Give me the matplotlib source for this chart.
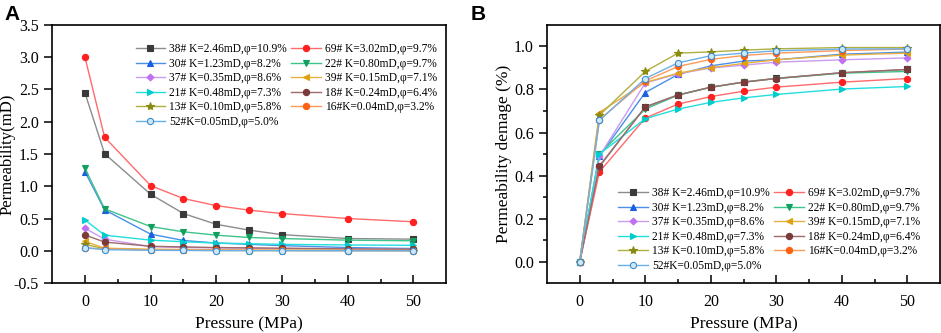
import matplotlib
matplotlib.use("Agg")
import matplotlib.pyplot as plt

pressure = [0, 3, 10, 15, 20, 25, 30, 40, 50]

labels = ['38# K=2.46mD,φ=10.9%', '69# K=3.02mD,φ=9.7%', '30# K=1.23mD,φ=8.2%',
          '22# K=0.80mD,φ=9.7%', '37# K=0.35mD,φ=8.6%', '39# K=0.15mD,φ=7.1%',
          '21# K=0.48mD,φ=7.3%', '18# K=0.24mD,φ=6.4%', '13# K=0.10mD,φ=5.8%',
          '16#K=0.04mD,φ=3.2%', '52#K=0.05mD,φ=5.0%']

# permeability (mD) vs pressure
perm_38 = [2.45, 1.505, 0.876, 0.577, 0.41, 0.32, 0.25, 0.19, 0.18]
perm_69 = [3.005, 1.76, 1.01, 0.81, 0.70, 0.63, 0.577, 0.50, 0.45]
perm_30 = [1.227, 0.634, 0.258, 0.16, 0.12, 0.10, 0.08, 0.05, 0.035]
perm_22 = [1.28, 0.65, 0.376, 0.294, 0.242, 0.206, 0.19, 0.165, 0.155]
perm_37 = [0.35, 0.18, 0.065, 0.05, 0.045, 0.04, 0.035, 0.03, 0.02]
perm_39 = [0.145, 0.04, 0.025, 0.02, 0.015, 0.012, 0.01, 0.008, 0.005]
perm_21 = [0.48, 0.242, 0.165, 0.14, 0.12, 0.11, 0.10, 0.09, 0.085]
perm_18 = [0.245, 0.135, 0.07, 0.06, 0.05, 0.045, 0.04, 0.03, 0.025]
perm_13 = [0.10, 0.03, 0.012, 0.008, 0.005, 0.004, 0.003, 0.002, 0.001]
perm_16 = [0.04, 0.03, 0.015, 0.012, 0.01, 0.008, 0.006, 0.004, 0.003]
perm_52 = [0.05, 0.017, 0.008, 0.005, 0.003, 0.002, 0.002, 0.001, 0.001]

# permeability damage vs pressure
dmg_38 = [0, 0.44, 0.72, 0.775, 0.81, 0.835, 0.852, 0.878, 0.893]
dmg_69 = [0, 0.417, 0.667, 0.732, 0.767, 0.792, 0.811, 0.834, 0.851]
dmg_30 = [0, 0.49, 0.786, 0.87, 0.91, 0.932, 0.938, 0.964, 0.974]
dmg_22 = [0, 0.50, 0.709, 0.774, 0.81, 0.834, 0.851, 0.876, 0.884]
dmg_37 = [0, 0.49, 0.83, 0.873, 0.90, 0.913, 0.927, 0.938, 0.947]
dmg_39 = [0, 0.693, 0.833, 0.876, 0.902, 0.921, 0.938, 0.96, 0.969]
dmg_21 = [0, 0.50, 0.664, 0.709, 0.74, 0.761, 0.777, 0.802, 0.814]
dmg_18 = [0, 0.445, 0.718, 0.774, 0.811, 0.834, 0.851, 0.878, 0.893]
dmg_13 = [0, 0.68, 0.884, 0.969, 0.975, 0.983, 0.989, 0.995, 0.995]
dmg_16 = [0, 0.66, 0.84, 0.907, 0.94, 0.958, 0.969, 0.981, 0.988]
dmg_52 = [0, 0.656, 0.851, 0.924, 0.957, 0.969, 0.98, 0.988, 0.989]

perm = [perm_38, perm_69, perm_30, perm_22, perm_37, perm_39, perm_21, perm_18, perm_13, perm_16, perm_52]
dmg = [dmg_38, dmg_69, dmg_30, dmg_22, dmg_37, dmg_39, dmg_21, dmg_18, dmg_13, dmg_16, dmg_52]

line_colors = ['#8c8c8c', '#ff6b6b', '#4a90e8', '#3cc48a', '#c99cf0', '#e8b040',
               '#22dede', '#a06a6a', '#b0b040', '#ff9a5a', '#6ab0e8']
mark_colors = ['#3a3a3a', '#ff2020', '#1a5fe0', '#12a060', '#c070f0', '#e0a010',
               '#00cccc', '#7a3a3a', '#8a8a10', '#ff6010', '#3a8fd0']
markers = ['s', 'o', '^', 'v', 'D', '<', '>', 'o', '*', 'o', 'o']
msizes = [4, 4.5, 4.5, 4.5, 3.5, 4.5, 4.5, 4.5, 6, 4.5, 4.5]

plt.rcParams['font.family'] = ['Liberation Serif', 'DejaVu Serif']

fig = plt.figure(figsize=(9.41, 3.33), dpi=100)
axA = fig.add_axes([0.0553, 0.150, 0.419, 0.775])
axB = fig.add_axes([0.5813, 0.150, 0.4177, 0.775])

legend_order = [0, 2, 4, 6, 8, 10, 1, 3, 5, 7, 9]

for ax, data in [(axA, perm), (axB, dmg)]:
    handles = []
    for i in range(len(labels)):
        mfc = '#cfe6f7' if i == 10 else mark_colors[i]
        h, = ax.plot(pressure, data[i], color=line_colors[i], lw=1.0,
                     marker=markers[i], ms=msizes[i], mfc=mfc, mec=mark_colors[i],
                     mew=0.8, label=labels[i])
        handles.append(h)
    ax.set_xlim(-5, 55)
    ax.set_xticks([0, 10, 20, 30, 40, 50])
    ax.set_xticks([5, 15, 25, 35, 45], minor=True)
    ax.tick_params(axis='x', which='major', direction='in', length=6, width=1.1, labelsize=11.5, pad=8)
    ax.tick_params(axis='x', which='minor', direction='in', length=3, width=1.1)
    ax.tick_params(axis='y', which='major', direction='out', length=6, width=1.1, labelsize=11.5)
    ax.tick_params(axis='y', which='minor', direction='out', length=3, width=1.1)
    for s in ax.spines.values():
        s.set_linewidth(1.2)
    ax.set_xlabel('Pressure (MPa)', fontsize=12.5)
    ax.xaxis.set_label_coords(0.5, -0.13)
    ax.hs = [handles[j] for j in legend_order]
    ax.ls = [labels[j] for j in legend_order]

axA.set_ylim(-0.5, 3.5)
axA.set_yticks([-0.5, 0.0, 0.5, 1.0, 1.5, 2.0, 2.5, 3.0, 3.5])
axA.set_yticklabels(['-0.5', '0.0', '0.5', '1.0', '1.5', '2.0', '2.5', '3.0', '3.5'])
axA.set_ylabel('Permeability(mD)', fontsize=12)
axA.yaxis.set_label_coords(-0.093, 0.5)
axA.legend(axA.hs, axA.ls, ncol=2, frameon=False, fontsize=8.3, loc='upper left',
           bbox_to_anchor=(0.20, 0.948), handlelength=2.6, handletextpad=0.3,
           columnspacing=0.4, labelspacing=0.22, borderaxespad=0)

axB.set_ylim(-0.1, 1.1)
axB.set_yticks([0.0, 0.2, 0.4, 0.6, 0.8, 1.0])
axB.set_yticks([0.1, 0.3, 0.5, 0.7, 0.9], minor=True)
axB.set_ylabel('Permeability demage (%)', fontsize=12.5)
axB.yaxis.set_label_coords(-0.089, 0.5)
axB.legend(axB.hs, axB.ls, ncol=2, frameon=False, fontsize=8.3, loc='upper left',
           bbox_to_anchor=(0.17, 0.39), handlelength=2.6, handletextpad=0.3,
           columnspacing=0.4, labelspacing=0.22, borderaxespad=0)

fig.text(0.005, 0.985, 'A', fontsize=15, fontweight='bold', family='Liberation Sans', va='top')
fig.text(0.5, 0.985, 'B', fontsize=15, fontweight='bold', family='Liberation Sans', va='top')

fig.savefig('out.png', dpi=100)
